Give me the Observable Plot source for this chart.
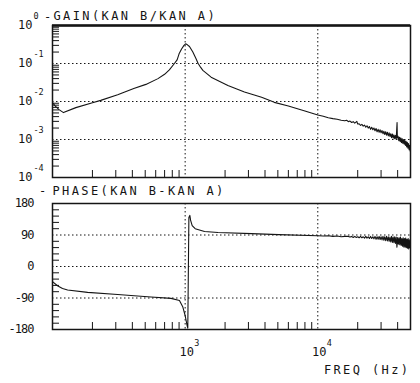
<!DOCTYPE html>
<html><head><meta charset="utf-8">
<script src="https://cdn.jsdelivr.net/npm/d3@7"></script>
<script src="https://cdn.jsdelivr.net/npm/@observablehq/plot@0.6"></script>
<style>
body{margin:0;background:#fff}
#chart{position:relative;width:420px;height:383px;overflow:hidden;background:#fff}
#chart svg{position:absolute;left:0}
</style></head><body><div id="chart"></div>
<script>
// ---- data ----
const freqDomain = [100, 50000];
const freqDecades = [1000, 10000];
const freqExp = ["3", "4"];
const freqMinor = [200,300,400,500,600,700,800,900,2000,3000,4000,5000,6000,7000,8000,9000,20000,30000,40000];

const gainDecades = [1, 1e-1, 1e-2, 1e-3, 1e-4];
const gainExp = ["0", "-1", "-2", "-3", "-4"];
const gainGrid = [1e-1, 1e-2, 1e-3];
const gainMinor = [2,3,4,5,6,7,8,9].flatMap(m => [1e-4, 1e-3, 1e-2, 1e-1].map(d => m * d));

const phaseTicks = [180, 90, 0, -90, -180];
const phaseGrid = [90, 0, -90];
const phaseMinor = [-162,-144,-126,-108,-72,-54,-36,-18,18,36,54,72,108,126,144,162];

const titleGain = "GAIN(KAN B/KAN A)";
const titlePhase = "PHASE(KAN B-KAN A)";
const titleFreq = "FREQ (Hz)";

const gainHz = [100,105,112,121,150,200,231,310,410,506,624,700,760,830,870,900,940,980,1008,1040,1078,1143,1211,1250,1306,1360,1570,2100,2800,3770,4700,6000,8000,
  10000,11000,12000,13000,14000,15000,16000,16500,17000,17500,18000,18500,19000,19700,20000,20500,21000,21500,22000,22500,23000,23500,24000,24500,25000,25500,26000,26500,27000,27500,28000,28500,29000,29500,30000,30500,31000,31500,32000,32500,33000,33500,34000,34500,35000,35500,36000,36500,37000,37500,38000,38500,39000,39600,39800,40300,40800,41300,41800,42300,42800,43300,43800,44300,44800,45300,45800,46300,46800,47300,47800,48300,48800,49300,49700,50000];
const gainVal = [0.0093,0.0076,0.0061,0.0051,0.0069,0.0093,0.0107,0.0151,0.0219,0.0282,0.040,0.052,0.068,0.100,0.125,0.18,0.24,0.30,0.33,0.31,0.28,0.20,0.132,0.102,0.080,0.066,0.0437,0.0263,0.0178,0.0129,0.0095,0.0076,0.0056,
  4.4e-3,4.1e-3,3.75e-3,3.55e-3,3.4e-3,3.2e-3,3.1e-3,3.2e-3,2.95e-3,3.05e-3,2.8e-3,2.95e-3,2.7e-3,3.0e-3,2.55e-3,2.6e-3,2.35e-3,2.5e-3,2.25e-3,2.4e-3,2.1e-3,2.3e-3,2.0e-3,2.2e-3,1.85e-3,2.1e-3,1.8e-3,2.0e-3,1.7e-3,1.95e-3,1.6e-3,1.85e-3,1.55e-3,1.8e-3,1.5e-3,1.72e-3,1.42e-3,1.65e-3,1.35e-3,1.6e-3,1.3e-3,1.55e-3,1.25e-3,1.5e-3,1.2e-3,1.42e-3,1.12e-3,1.4e-3,1.08e-3,1.32e-3,1.05e-3,1.28e-3,1.0e-3,2.8e-3,1.1e-3,1.22e-3,9.3e-4,1.15e-3,8.8e-4,1.1e-3,8.3e-4,1.05e-3,7.9e-4,1.0e-3,7.5e-4,9.5e-4,7.0e-4,9.0e-4,6.4e-4,8.5e-4,5.9e-4,7.8e-4,5.4e-4,7.0e-4,5.0e-4,6.0e-4];

const phaseHz = [100,109,119,130,184,310,553,783,906,961,1000,1034,1047,1067,1085,1100,1130,1190,1400,1770,3160,5070,
  10000,11000,12000,13000,14000,15000,16000,17000,17500,18000,18500,19000,19500,20000,20500,21000,21500,22000,22500,23000,23500,24000,24500,25000,25500,26000,26500,27000,27500,28000,28500,29000,29500,30000,30500,31000,31500,32000,32500,33000,33500,34000,34500,35000,35500,36000,36500,37000,37500,38000,38500,39000,39500,40000,40500,41000,41500,42000,42500,43000,43500,44000,44500,45000,45500,46000,46500,47000,47500,48000,48500,49000,49500,50000];
const phaseDeg = [-43,-55,-63,-67,-74,-80,-87,-91,-97,-116,-140,-168,-176,140,146,132,117,108,100,97,94,91,
  88,87,88,86,87,85,86,86,84,86,83,86,83,85,82,86,82,85,81,86,81,85,80,86,80,85,79,86,78,85,78,86,77,85,76,86,75,85,74,86,73,85,72,84,70,86,69,84,68,85,66,84,55,83,64,82,62,84,60,80,58,82,56,80,55,81,54,78,52,80,50,76,54,64];

// ---- render ----
const INK = "#151515";
const FONT = "'DejaVu Sans Mono', monospace";
const gainRows = gainHz.map((f, i) => ({f, g: gainVal[i]}));
const phaseRows = phaseHz.map((f, i) => ({f, p: phaseDeg[i]}));
const gainLab = gainDecades.map((v, i) => ({v, e: gainExp[i]}));
const dots = {stroke: INK, strokeWidth: 1, strokeDasharray: "1.5,2.5"};

const gain = Plot.plot({
  width: 420, height: 185,
  marginLeft: 52, marginRight: 10, marginTop: 25, marginBottom: 8,
  x: {type: "log", domain: freqDomain, axis: null},
  y: {type: "log", domain: [1e-4, 1], axis: null},
  style: {fontFamily: FONT, color: INK, background: "white"},
  marks: [
    Plot.ruleY(gainGrid, dots),
    Plot.ruleX(freqDecades, dots),
    Plot.tickY(gainMinor, {y: d => d, insetRight: 351, stroke: INK}),
    Plot.tickX(freqMinor, {x: d => d, insetTop: 145, stroke: INK}),
    Plot.frame({stroke: INK, strokeWidth: 1.5}),
    Plot.ruleY([1], {stroke: INK, strokeWidth: 2.5}),
    Plot.line(gainRows, {x: "f", y: "g", stroke: INK, strokeWidth: 1.1}),
    Plot.text(gainLab, {y: "v", text: () => "10", frameAnchor: "left", textAnchor: "end", dx: -20, fontSize: 12, fill: INK}),
    Plot.text(gainLab, {y: "v", text: "e", frameAnchor: "left", textAnchor: "start", dx: -19, dy: -9, fontSize: 8.5, fill: INK}),
    Plot.text(["-"], {text: d => d, frameAnchor: "top-left", textAnchor: "middle", lineAnchor: "bottom", dx: -5, dy: -5, fontSize: 12, fill: INK}),
    Plot.text([titleGain], {text: d => d, frameAnchor: "top-left", textAnchor: "start", lineAnchor: "bottom", dx: 1, dy: -6, fontSize: 12, fill: INK})
  ]
});

const phase = Plot.plot({
  width: 420, height: 198,
  marginLeft: 52, marginRight: 10, marginTop: 18, marginBottom: 54,
  x: {type: "log", domain: freqDomain, axis: null},
  y: {domain: [-180, 180], axis: null},
  style: {fontFamily: FONT, color: INK, background: "white"},
  marks: [
    Plot.ruleY(phaseGrid, dots),
    Plot.ruleX(freqDecades, dots),
    Plot.tickY(phaseMinor, {y: d => d, insetRight: 351, stroke: INK}),
    Plot.tickX(freqMinor, {x: d => d, insetTop: 119, stroke: INK}),
    Plot.frame({stroke: INK, strokeWidth: 1.5}),
    Plot.line(phaseRows, {x: "f", y: "p", stroke: INK, strokeWidth: 1.1}),
    Plot.text(phaseTicks, {y: d => d, text: d => String(d), frameAnchor: "left", textAnchor: "end", dx: -19, fontSize: 12, fill: INK}),
    Plot.text(freqDecades, {x: d => d, text: () => "10", frameAnchor: "bottom", textAnchor: "middle", lineAnchor: "bottom", dx: 1.5, dy: 26, fontSize: 12, fill: INK}),
    Plot.text(freqDecades, {x: d => d, text: (d, i) => freqExp[i], frameAnchor: "bottom", textAnchor: "start", lineAnchor: "bottom", dx: 9, dy: 16, fontSize: 8.5, fill: INK}),
    Plot.text(["-"], {text: d => d, frameAnchor: "top-left", textAnchor: "middle", lineAnchor: "bottom", dx: -10, dy: -9, fontSize: 12, fill: INK}),
    Plot.text([titlePhase], {text: d => d, frameAnchor: "top-left", textAnchor: "start", lineAnchor: "bottom", dx: 0, dy: -9, fontSize: 12, fill: INK}),
    Plot.text([titleFreq], {text: d => d, frameAnchor: "bottom-right", textAnchor: "end", lineAnchor: "bottom", dx: 0, dy: 44, fontSize: 12, fill: INK})
  ]
});

// spacing: plotter-style wide titles, narrow phase tick digits
const titles = [titleGain, titlePhase, titleFreq];
const phaseLabels = phaseTicks.map(String);
[gain, phase].forEach(svg => d3.select(svg).selectAll("text").each(function() {
  const t = this.textContent;
  if (titles.includes(t)) this.style.letterSpacing = "2.4px";
  else if (svg === phase && phaseLabels.includes(t)) this.style.letterSpacing = "-1px";
}));

const chart = document.getElementById("chart");
gain.style.top = "0px";
phase.style.top = "185px";
chart.appendChild(gain);
chart.appendChild(phase);
</script></body></html>
